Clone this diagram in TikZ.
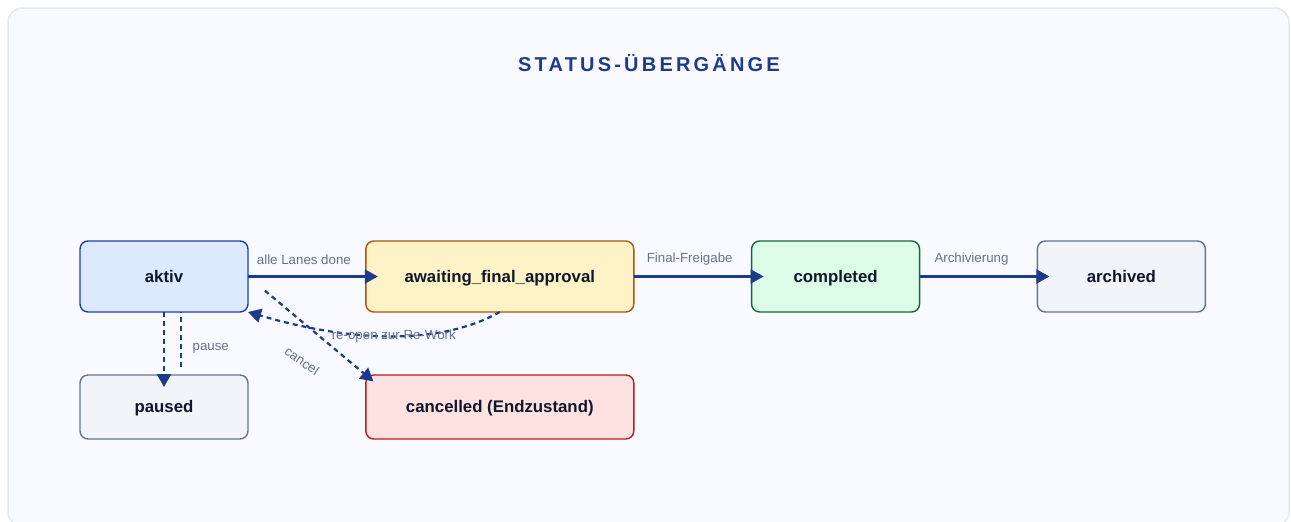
\documentclass[tikz,border=0pt]{standalone}
\usepackage{fontspec}
\setmainfont{Liberation Sans}
\usetikzlibrary{positioning,arrows.meta}
\definecolor{stFrame}{RGB}{226,232,240}
\definecolor{stBg}{RGB}{248,250,255}
\definecolor{stNavy}{RGB}{30,58,138}
\definecolor{stText}{RGB}{15,23,42}
\definecolor{stLabel}{RGB}{100,116,139}
\definecolor{stBlueFill}{RGB}{219,234,254}
\definecolor{stBlueLine}{RGB}{30,64,175}
\definecolor{stAmberFill}{RGB}{254,243,199}
\definecolor{stAmberLine}{RGB}{180,83,9}
\definecolor{stGreenFill}{RGB}{220,252,231}
\definecolor{stGreenLine}{RGB}{22,101,52}
\definecolor{stGrayFill}{RGB}{241,245,249}
\definecolor{stGrayLine}{RGB}{100,116,139}
\definecolor{stRedFill}{RGB}{254,226,226}
\definecolor{stRedLine}{RGB}{185,28,28}

\begin{document}
\begin{tikzpicture}[x=1pt, y=-1pt,
  state/.style={draw, rounded corners=8pt, line width=1.4pt, outer sep=0pt, minimum width=168pt,
    minimum height=71pt, text height=11.5pt, text depth=0.5pt, text=stText,
    font=\bfseries\fontsize{16.8}{20}\selectfont},
  wide/.style={minimum width=268pt},
  low/.style={minimum height=64pt},
  flow/.style={stNavy, line width=2.2pt, -{Triangle[length=13pt,width=14pt]}},
  back/.style={flow, line width=2.6pt, dash pattern=on 5pt off 4pt},
  lbl/.style={text=stLabel, font=\fontsize{13.3}{16}\selectfont}]
  \useasboundingbox (0,0) rectangle (1291,522);
  \clip (0,0) rectangle (1291,522);
  \fill[white] (0,0) rectangle (1291,522);
  \draw[stFrame, fill=stBg, line width=1.5pt, rounded corners=14pt] (8,8) rectangle (1289,526);

  % Titel
  \node[text=stNavy, font=\bfseries\fontsize{20}{24}\selectfont\addfontfeature{LetterSpace=16}] (title) at (649,63) {STATUS-ÜBERGÄNGE};

  % Hauptpfad
  \node[state, fill=stBlueFill, draw=stBlueLine] (aktiv) at (164,276.5) {aktiv};
  \node[state, wide, fill=stAmberFill, draw=stAmberLine, right=117.8pt of aktiv] (awaiting) {awaiting\_final\_approval};
  \node[state, fill=stGreenFill, draw=stGreenLine, right=117.8pt of awaiting] (completed) {completed};
  \node[state, fill=stGrayFill, draw=stGrayLine, right=117.8pt of completed] (archived) {archived};

  % Nebenzustaende
  \node[state, low, fill=stGrayFill, draw=stGrayLine, below=63pt of aktiv] (paused) {paused};
  \node[state, wide, low, fill=stRedFill, draw=stRedLine, below=63pt of awaiting] (cancelled) {cancelled (Endzustand)};

  % Uebergaenge
  \draw[flow, shorten >=-12pt] (aktiv) -- (awaiting) node[lbl, midway, above=7pt, xshift=-3pt] {alle Lanes done};
  \draw[flow, shorten >=-12pt] (awaiting) -- (completed) node[lbl, midway, above=7pt, xshift=-3pt] {Final-Freigabe};
  \draw[flow, shorten >=-12pt] (completed) -- (archived) node[lbl, midway, above=7pt, xshift=-7pt] {Archivierung};

  % pause / zurueck
  \draw[back, shorten >=-12pt] (aktiv.south) -- (paused.north);
  \draw[stNavy, line width=2.6pt, dash pattern=on 5pt off 4pt, shorten <=8pt] ([xshift=17pt]paused.north) -- ([xshift=17pt]aktiv.south)
    node[lbl, midway, right=7pt, yshift=-5pt] {pause};

  % re-open
  \draw[back, line width=2.2pt] (awaiting.south) .. controls +(-57,32) and +(110,32) .. (aktiv.south east)
    node[lbl, midway] {re-open zur Re-Work};

  % cancel
  \draw[back, line width=2.2pt, shorten <=22pt, shorten >=-10pt] (aktiv.east) -- (cancelled.north west);
  \node[lbl, rotate=-35] (cancelLbl) at (302,361) {cancel};
\end{tikzpicture}
\end{document}
